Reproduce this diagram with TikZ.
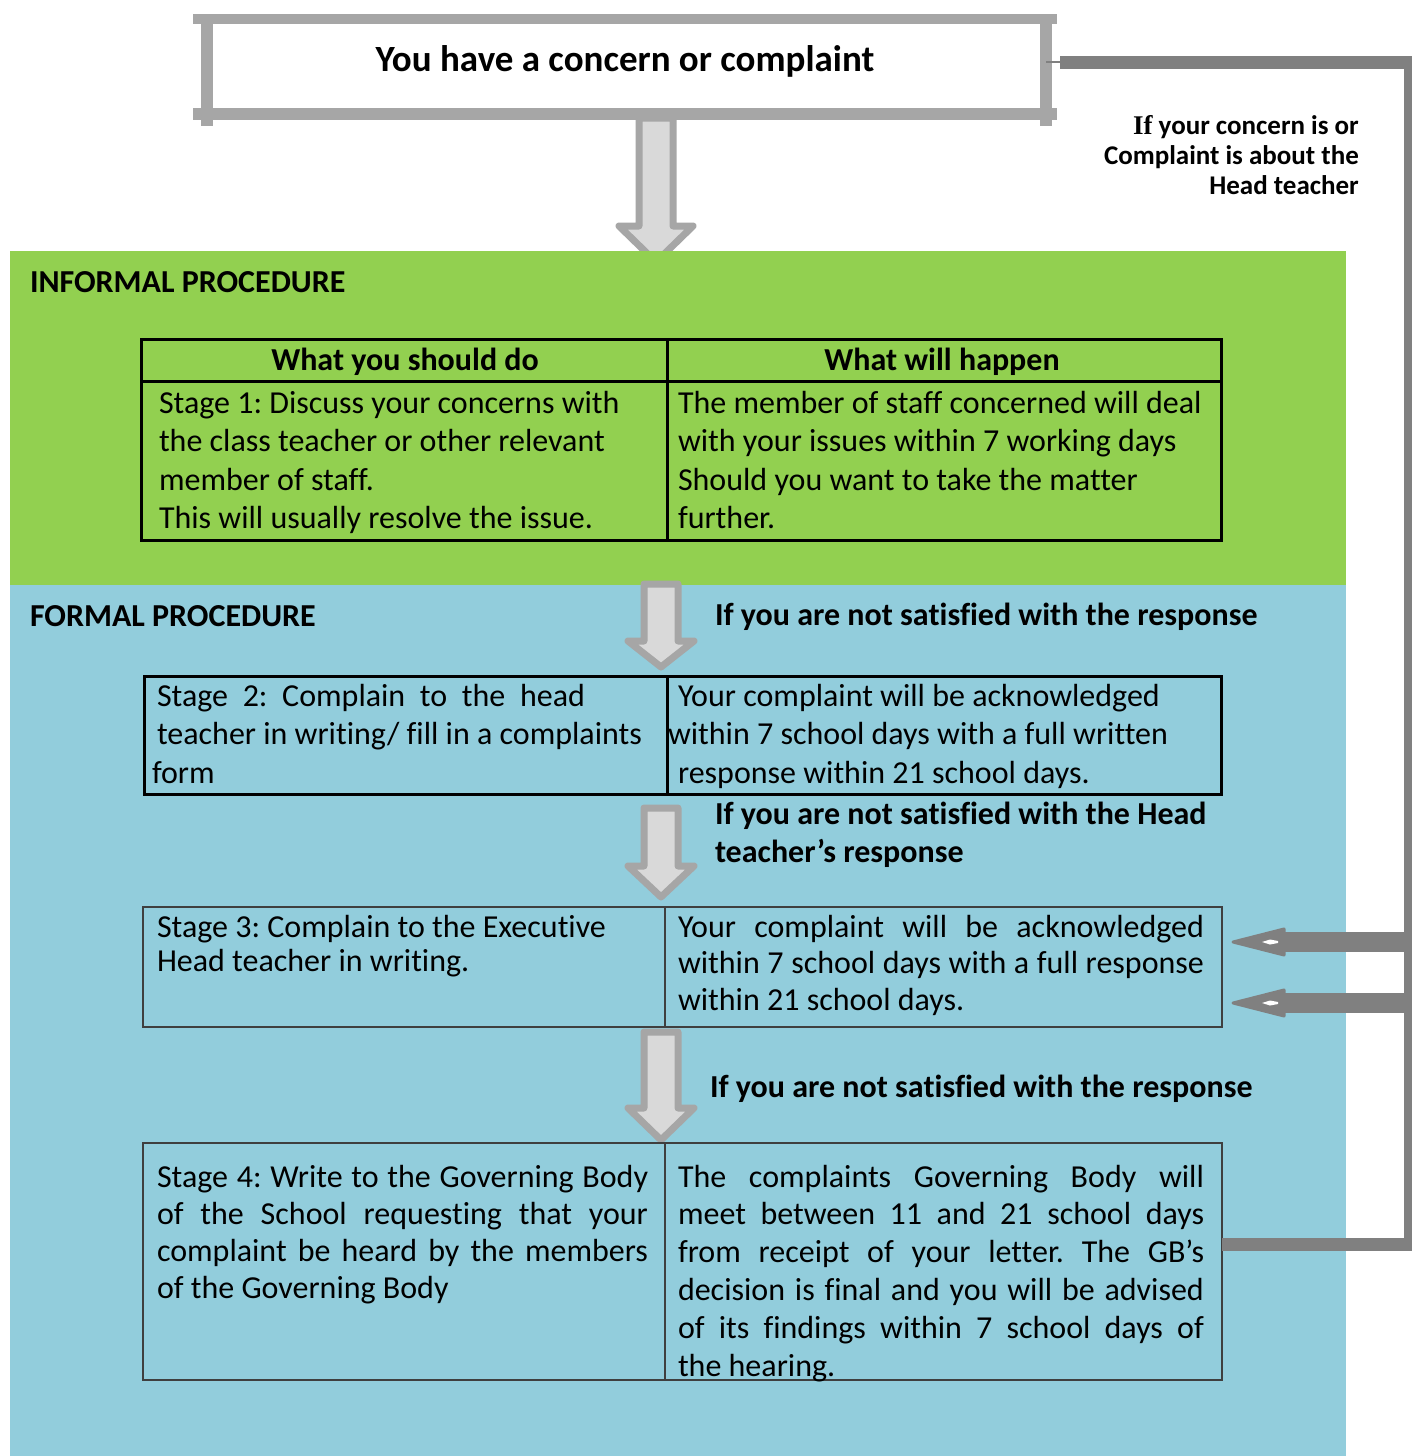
\documentclass[tikz,border=0pt]{standalone}
\usepackage{fontspec}
\setmainfont{Carlito}[Ligatures=CommonOff]
\newfontfamily\serifbf{Liberation Serif}
\usetikzlibrary{arrows.meta,calc}
\definecolor{infgreen}{HTML}{92D050}
\definecolor{formblue}{HTML}{92CDDC}
\definecolor{framegray}{HTML}{A6A6A6}
\definecolor{fillgray}{HTML}{D9D9D9}
\definecolor{conngray}{HTML}{808080}
\definecolor{thinline}{HTML}{3F3F3F}
\newcommand\bodyfs{\fontsize{32}{38.5}\selectfont}
\newcommand\titlefs{\fontsize{37}{44}\selectfont}
\newcommand\notefs{\fontsize{27}{30}\selectfont}
\newcommand\JLine[1]{\makebox[\linewidth][s]{#1}}
\newcommand\cellbox[3]{\parbox[t]{#1pt}{\fontsize{32}{#2}\selectfont #3}}
\newcommand\blockarrow[5]{\draw[blockarr] (#1-17,#2) -- (#1+17,#2) -- (#1+17,#3) -- (#1+#5,#3) -- (#1,#4) -- (#1-#5,#3) -- (#1-17,#3) -- cycle;}
\frenchspacing
\tikzset{
  blockarr/.style={draw=framegray, fill=fillgray, line width=7pt, line join=round},
  framebar/.style={draw=framegray, line width=11pt},
  region/.style={inner sep=0pt, outer sep=0pt, anchor=north west},
  cell/.style={anchor=base west, inner sep=0pt, outer sep=0pt},
  lbl/.style={anchor=base west, inner sep=0pt, outer sep=0pt, font=\bodyfs\bfseries},
  tblthick/.style={draw=black, line width=3pt, inner sep=0pt, outer sep=0pt, anchor=north west},
  tblthin/.style={draw=thinline, line width=1.3pt, inner sep=0pt, outer sep=0pt, anchor=north west},
  connline/.style={draw=conngray, line width=13pt},
  sideshaft/.style={draw=conngray, line width=20pt},
  sidehead/.style={fill=conngray, draw=conngray, line width=3pt, line join=round},
}
\begin{document}
\frenchspacing
\begin{tikzpicture}[x=1pt,y=-1pt]
\useasboundingbox (0,0) rectangle (1411,1456);
\fill[white] (0,0) rectangle (1411,1456);
% top box
\node[fill=white, minimum width=839pt, minimum height=95pt, inner sep=0pt, outer sep=0pt] (top) at (626.5,66.5) {};
\draw[framebar, line width=10pt] (193,19) -- (1057,19);
\draw[framebar, line width=12pt] (193,114) -- (1057,114);
\draw[framebar, line width=12pt] (207,14) -- (207,126);
\draw[framebar, line width=12pt] (1046,14) -- (1046,126);
\node[anchor=base, inner sep=0pt, font=\titlefs\bfseries] (title) at (625,71) {You have a concern or complaint};
% arrow 1
\blockarrow{656}{118}{226}{262}{37}
% regions
\node[region, fill=infgreen, minimum width=1336pt, minimum height=334pt] (informal) at (10,251) {};
\node[region, fill=formblue, minimum width=1336pt, minimum height=871pt] (formal) at (10,585) {};
\node[lbl] (inftitle) at (30,292) {INFORMAL PROCEDURE};
\node[lbl] (formtitle) at (30,626) {FORMAL PROCEDURE};
% note right
\node[anchor=base east, inner sep=0pt] (note) at (1359,134) {\parbox[t]{320pt}{\raggedleft\notefs\bfseries {\serifbf\bfseries If} your concern is or\\ Complaint is about the\\ Head teacher}};
% table 1
\node[tblthick, minimum width=1080pt, minimum height=201pt] (t1) at (141,339) {};
\draw[black, line width=3pt] (141,381) -- (1221,381);
\draw[black, line width=3pt] (667,339) -- (667,540);
\node[lbl, anchor=base] (h1) at (405,370) {What you should do};
\node[lbl, anchor=base] (h2) at (942,370) {What will happen};
\node[cell] (c1l) at (159,413) {\cellbox{500}{38.5}{Stage 1: Discuss your concerns with\\ the class teacher or other relevant\\ member of staff.\\ This will usually resolve the issue.}};
\node[cell] (c1r) at (678,413) {\cellbox{540}{38.5}{The member of staff concerned will deal\\ with your issues within 7 working days\\ Should you want to take the matter\\ further.}};
% arrow 2
\blockarrow{661}{584}{641}{667}{33}
\node[lbl] (l1) at (715,625) {If you are not satisfied with the response};
% table 2
\node[tblthick, minimum width=1077pt, minimum height=118pt] (t2) at (144,676) {};
\draw[black, line width=3pt] (667,676) -- (667,794);
\node[cell] (c2l) at (157,706) {\cellbox{500}{38.5}{\makebox[428pt][s]{Stage 2: Complain to the head}\\ teacher in writing/ fill in a complaints\\ \hspace*{-5pt}form}};
\node[cell] (c2r) at (678,706) {\cellbox{540}{38.5}{Your complaint will be acknowledged\\ \hspace*{-10pt}within 7 school days with a full written\\ response within 21 school days.}};
% arrow 3
\blockarrow{661}{808}{866}{897}{33}
\node[lbl] (l2) at (715,824) {\parbox[t]{600pt}{\fontsize{32}{38}\selectfont\bfseries If you are not satisfied with the Head\\ teacher’s response}};
% table 3
\node[tblthin, minimum width=1079pt, minimum height=120pt] (t3) at (143,907) {};
\draw[thinline, line width=1.3pt] (665,907) -- (665,1027);
\node[cell] (c3l) at (157,937) {\cellbox{500}{34}{Stage 3: Complain to the Executive\\ Head teacher in writing.}};
\node[cell] (c3r) at (678,937) {\cellbox{526}{36.5}{\JLine{Your complaint will be acknowledged}\\ \JLine{within 7 school days with a full response}\\ within 21 school days.}};
% arrow 4
\blockarrow{661}{1032}{1108}{1140}{33}
\node[lbl] (l3) at (710,1097) {If you are not satisfied with the response};
% table 4
\node[tblthin, minimum width=1079pt, minimum height=237pt] (t4) at (143,1143) {};
\draw[thinline, line width=1.3pt] (665,1143) -- (665,1380);
\node[cell] (c4l) at (157,1187) {\cellbox{491}{37}{\JLine{Stage 4: Write to the Governing Body}\\ \JLine{of the School requesting that your}\\ \JLine{complaint be heard by the members}\\ of the Governing Body}};
\node[cell] (c4r) at (678,1187) {\cellbox{526}{37.8}{\JLine{The complaints Governing Body will}\\ \JLine{meet between 11 and 21 school days}\\ \JLine{from receipt of your letter. The GB’s}\\ \JLine{decision is final and you will be advised}\\ \JLine{of its findings within 7 school days of}\\ the hearing.}};
% right connector
\coordinate (s0) at (1060,62);
\coordinate (s1) at (1410,62);
\coordinate (s2) at (1410,1244);
\draw[conngray, line width=2pt] (top.east |- s0) -- (s0);
\draw[connline, line join=miter] (s0) -- (s1) -- (s2) -- (t4.east |- s2);
% side arrows to stage 3
\coordinate (v1) at (1410,942);
\coordinate (b1) at (1280,942);
\coordinate (p1) at (1233,942);
\coordinate (v2) at (1410,1003);
\coordinate (b2) at (1280,1003);
\coordinate (p2) at (1233,1003);
\draw[sideshaft] (v1) -- (b1);
\draw[sideshaft] (v2) -- (b2);
\filldraw[sidehead] (p1) -- ($(p1)+(51,-13)$) -- ($(p1)+(51,13)$) -- cycle;
\filldraw[sidehead] (p2) -- ($(p2)+(51,-13)$) -- ($(p2)+(51,13)$) -- cycle;
\fill[white] (1262,942) -- (1270,939.5) -- (1278,941) -- (1278,943) -- (1270,944.5) -- cycle;
\fill[white] (1262,1003) -- (1270,1000.5) -- (1278,1002) -- (1278,1004) -- (1270,1005.5) -- cycle;
\end{tikzpicture}
\end{document}
